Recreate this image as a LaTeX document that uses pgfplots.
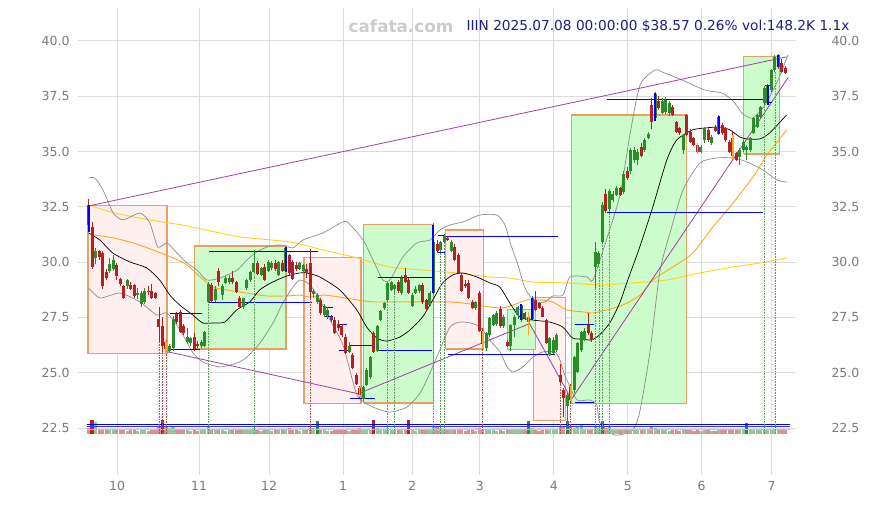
\documentclass[border=0pt]{standalone}
\usepackage{pgfplots}
\pgfplotsset{compat=1.18}
\usepackage{pgfplotstable}
\usepackage{fontspec}
\setmainfont{DejaVu Sans}

\definecolor{cgreen}{HTML}{2A8C2A}
\definecolor{cred}{HTML}{B22222}
\definecolor{cgrid}{HTML}{DCDCDC}
\definecolor{cbox}{HTML}{E6A064}
\definecolor{cpink}{HTML}{FFEFEF}
\definecolor{cmint}{HTML}{CCFBCC}
\definecolor{cpurple}{HTML}{A040A0}
\definecolor{cyellow}{HTML}{FFD21E}
\definecolor{corange}{HTML}{FFA520}
\definecolor{cband}{HTML}{8C8C8C}
\definecolor{ctitle}{HTML}{1C1C8C}
\definecolor{ctick}{HTML}{7A7A7A}

% daily candles: day, open, high, low, close, volume height
\pgfplotstableread{
d o h l c v
2 30.2 30.65 29.9 30.5 0.55
6 29.6 30.2 29.5 29.9 0.18
7 29.7 30.3 29.6 30.1 0.2
11 28.9 29.25 28.8 29.2 0.15
14 28.5 28.85 28.35 28.6 0.14
15 28.1 28.7 27.95 28.6 0.18
16 28.2 28.85 28.1 28.7 0.16
23 26.0 26.3 25.9 26.2 0.25
24 26.1 27.55 26.0 27.45 0.3
28 26.4 27.0 26.3 26.6 0.18
29 26.35 26.6 26.2 26.55 0.15
32 26.2 26.5 26.1 26.4 0.17
33 26.2 26.9 26.15 26.85 0.2
34 28.2 29.1 28.15 29.0 0.34
36 28.3 28.9 28.2 28.8 0.18
38 28.5 29.0 28.3 28.9 0.17
39 29.05 29.35 29.0 29.28 0.15
40 29.1 29.4 29.0 29.3 0.16
44 27.98 28.4 27.9 28.37 0.17
45 28.83 29.25 28.75 29.19 0.18
46 29.19 29.6 29.1 29.57 0.16
47 29.57 30.54 29.5 29.97 0.26
49 29.42 29.8 29.35 29.74 0.15
51 29.6 30.1 29.55 30.0 0.16
52 29.75 30.05 29.65 29.95 0.15
54 29.4 30.05 29.35 30.0 0.16
56 29.6 30.7 29.55 30.65 0.2
60 29.7 30.0 29.65 29.95 0.15
61 29.6 29.9 29.5 29.85 0.16
64 28.55 28.8 28.4 28.7 0.25
65 28.2 28.6 28.1 28.5 0.6
67 27.6 28.1 27.5 28.0 0.16
68 27.55 27.95 27.45 27.85 0.15
74 25.95 26.4 25.9 26.2 0.15
78 23.8 24.4 23.7 24.37 0.2
79 24.45 25.2 24.4 25.1 0.18
80 24.8 25.75 24.7 25.7 0.2
82 26.0 27.15 25.95 27.1 0.25
83 27.4 27.85 27.35 27.77 0.2
84 27.93 28.2 27.85 28.15 0.22
85 28.3 29.1 28.25 29.05 0.28
86 28.74 29.15 28.7 29.1 0.2
87 28.8 29.0 28.6 28.95 0.22
89 28.6 29.4 28.5 29.3 0.18
92 28.0 28.6 27.95 28.5 0.2
93 28.6 28.9 28.55 28.8 0.15
94 28.7 29.0 28.6 28.95 0.16
97 28.06 28.7 28.0 28.6 0.2
98 28.6 31.75 28.5 30.9 0.3
100 30.55 30.95 30.5 30.9 0.25
101 30.9 31.25 30.85 31.2 0.22
103 30.5 31.0 30.45 30.9 0.17
110 27.93 28.25 27.85 28.2 0.15
113 26.1 26.85 26.0 26.8 0.2
114 26.7 27.5 26.6 27.47 0.18
115 27.15 27.65 27.1 27.6 0.16
116 27.2 27.8 27.1 27.7 0.15
118 27.1 27.6 27.0 27.5 0.15
120 26.2 27.2 26.0 27.15 0.18
121 27.15 27.6 26.6 27.5 0.16
122 27.6 28.0 27.45 27.95 0.17
123 27.4 28.1 27.3 28.06 0.2
125 27.3 27.75 26.7 27.5 0.6
126 27.45 28.45 27.4 28.4 0.25
131 25.8 26.6 25.75 26.55 0.2
132 25.9 26.6 25.85 26.5 0.17
133 26.03 26.8 25.95 26.7 0.18
136 23.5 24.1 22.45 24.0 0.6
138 24.2 25.75 24.1 25.7 0.28
139 25.05 26.4 25.0 26.35 0.3
140 26.03 26.9 25.95 26.85 0.45
141 26.5 27.0 26.45 26.9 0.2
144 29.8 30.92 28.83 30.47 0.3
145 29.9 30.5 29.8 30.4 0.28
146 30.92 32.7 30.8 32.58 0.6
148 32.4 33.3 32.3 33.2 0.3
149 32.8 33.2 32.7 33.1 0.2
150 33.05 33.45 33.0 33.35 0.18
152 33.19 34.1 33.1 34.0 0.2
154 34.1 35.15 34.0 35.07 0.22
155 34.6 35.2 34.5 35.07 0.18
156 34.6 35.1 34.4 35.0 0.16
158 35.07 35.6 35.0 35.5 0.16
159 35.6 35.9 35.55 35.8 0.17
161 36.5 37.7 36.4 37.6 0.25
163 36.75 37.4 36.7 37.3 0.16
164 36.8 37.45 36.7 37.35 0.17
165 36.75 37.3 36.6 37.2 0.15
169 35.07 35.8 34.9 35.75 0.2
174 35.0 35.3 34.95 35.22 0.15
175 35.5 36.1 35.4 36.05 0.18
177 35.37 35.75 35.3 35.67 0.14
179 35.8 36.65 35.75 36.58 0.18
185 34.77 35.15 34.4 35.07 0.18
186 35.07 35.5 35.0 35.45 0.16
187 35.07 35.3 34.6 35.22 0.5
188 35.07 35.65 35.0 35.6 0.18
189 35.85 36.55 35.8 36.5 0.2
190 36.12 36.7 36.05 36.65 0.18
191 36.58 37.05 36.5 37.03 0.17
192 37.18 37.95 37.1 37.86 0.22
193 37.2 38.05 37.1 38.0 0.2
194 37.78 38.75 37.7 38.69 0.24
195 38.69 39.35 38.6 39.29 0.22
196 38.8 39.4 38.75 39.37 0.2
}\upcandles

\pgfplotstableread{
d o h l c v
0 32.6 32.85 31.4 31.7 0.25
1 31.6 31.8 29.7 29.8 0.65
3 30.5 30.55 30.1 30.25 0.22
4 30.4 30.5 28.8 28.9 0.24
5 29.55 29.7 29.2 29.3 0.2
8 29.85 29.95 29.2 29.35 0.16
9 29.25 29.3 28.9 29.0 0.18
10 28.9 28.95 28.35 28.4 0.22
12 28.95 29.1 28.75 28.8 0.17
13 28.95 29.0 28.4 28.45 0.2
17 28.7 28.9 28.5 28.65 0.15
18 28.7 29.0 28.35 28.4 0.17
19 28.6 28.65 28.35 28.4 0.2
20 27.45 27.98 26.4 27.05 0.32
21 27.1 27.5 25.95 26.2 0.65
22 26.4 26.5 25.85 26.05 0.3
25 27.65 27.75 27.2 27.3 0.2
26 27.75 27.85 26.8 26.85 0.18
27 27.1 27.2 26.7 26.8 0.16
30 26.6 26.8 26.0 26.05 0.2
31 26.3 26.45 26.1 26.2 0.15
35 28.95 29.05 28.15 28.25 0.22
37 29.6 29.75 28.9 29.1 0.2
41 29.3 29.6 29.0 29.1 0.18
42 29.1 29.15 28.6 28.66 0.2
43 28.37 28.45 27.95 27.98 0.22
48 29.97 30.05 29.4 29.45 0.17
50 29.8 29.9 29.15 29.2 0.18
53 29.98 30.1 29.6 29.7 0.17
55 29.98 30.1 29.55 29.6 0.18
57 30.3 30.35 29.4 29.5 0.28
58 30.0 30.1 29.2 29.25 0.22
59 29.85 30.0 29.6 29.7 0.17
62 29.7 29.9 29.3 29.5 0.2
63 29.96 30.6 28.4 28.66 0.25
66 28.3 28.4 27.6 27.7 0.2
69 27.5 27.6 27.3 27.4 0.14
70 27.4 27.5 26.75 26.8 0.2
71 27.2 27.4 26.9 27.0 0.16
72 27.1 27.2 26.6 26.7 0.18
73 26.6 26.75 25.85 25.9 0.2
75 25.8 25.9 25.15 25.2 0.2
76 24.9 25.0 24.45 24.5 0.22
77 24.3 24.4 23.85 24.0 0.25
81 26.8 26.9 25.9 25.95 0.65
88 29.1 29.2 28.6 28.7 0.17
90 29.4 29.75 29.05 29.1 0.2
91 29.19 29.3 28.55 28.6 0.65
95 28.97 29.05 28.1 28.2 0.18
96 28.3 28.35 27.8 27.86 0.16
99 30.8 31.0 30.4 30.5 0.3
102 31.1 31.2 30.95 31.0 0.16
104 30.7 30.8 30.05 30.1 0.18
105 30.3 30.4 29.45 29.5 0.2
106 29.4 29.5 28.65 28.7 0.22
107 29.0 29.2 28.85 28.9 0.15
108 29.05 29.2 28.35 28.4 0.18
109 28.2 28.3 27.9 27.93 0.17
111 28.6 28.7 26.85 26.9 0.26
112 26.9 27.0 26.1 26.3 0.22
117 27.9 28.0 27.0 27.1 0.18
119 26.4 26.5 26.15 26.2 0.2
124 27.7 27.75 27.4 27.47 0.16
127 28.3 28.7 27.8 27.85 0.2
128 28.15 28.2 27.9 27.93 0.15
129 27.93 28.0 27.5 27.53 0.16
130 27.4 27.45 26.3 26.35 0.22
134 24.9 25.4 24.55 24.6 0.3
135 24.2 24.3 23.0 23.85 0.3
137 24.36 24.5 23.6 23.75 0.3
142 27.15 27.7 26.7 26.78 0.18
143 26.8 26.9 26.4 26.5 0.16
147 33.1 33.3 32.2 32.3 0.25
151 33.35 33.4 33.0 33.05 0.16
153 34.1 34.3 33.7 33.8 0.17
157 35.2 35.4 34.75 34.8 0.17
160 37.1 37.4 36.0 36.35 0.3
162 37.3 37.5 36.9 36.97 0.18
166 37.03 37.1 36.6 36.65 0.16
167 36.35 36.4 35.85 35.9 0.2
168 36.05 36.1 35.75 35.83 0.15
170 36.65 36.7 35.7 35.75 0.22
171 35.9 36.0 35.4 35.45 0.18
172 35.6 35.65 35.25 35.3 0.15
173 35.3 35.4 34.95 35.0 0.17
176 35.98 36.1 35.45 35.52 0.16
178 36.12 36.2 35.9 35.95 0.15
180 36.2 36.3 35.75 35.83 0.16
181 36.05 36.1 35.45 35.52 0.17
182 35.45 35.5 34.95 35.0 0.18
183 35.6 35.9 34.65 34.8 0.22
184 34.92 35.0 34.55 34.62 0.17
197 38.99 39.2 38.55 38.61 0.18
198 38.77 38.85 38.5 38.57 0.2
}\downcandles

% heavy-volume days, drawn solid
\pgfplotstableread{
d v
65 0.6
125 0.6
136 0.6
146 0.6
187 0.5
}\upspikes
\pgfplotstableread{
d v
1 0.65
21 0.65
81 0.65
91 0.65
}\downspikes

% signal markers: day, low, high
\pgfplotstableread{
d lo hi
0 31.38 32.58
56 29.56 30.7
98 28.6 31.7
123 27.4 28.1
126 27.4 28.4
161 36.4 37.65
179 35.8 36.6
193 37.1 38.0
196 38.8 39.37
}\bluemarks
\pgfplotstableread{
d lo hi
22 25.85 26.45
77 23.9 24.35
112 26.1 26.9
125 26.7 27.75
137 23.7 24.4
173 34.9 35.4
183 34.65 35.75
}\orangemarks

% dotted drop lines: day, top of line
\pgfplotstableread{
d top
20 26.4
21 25.95
22 25.85
63 28.4
112 26.1
134 24.55
137 23.6
}\reddrops
\pgfplotstableread{
d top
34 28.15
47 29.5
85 28.25
87 28.6
98 28.5
100 30.5
101 30.85
144 28.83
145 29.8
146 30.8
148 32.3
192 37.1
195 38.6
}\greendrops

\pgfplotsset{
  boxpink/.style={fill=cpink, draw=cbox, line width=1.1pt},
  boxmint/.style={fill=cmint, draw=cbox, line width=1.1pt},
  % vertical strokes drawn as error bars, with no visible mark at the anchor point
  stroke/.style n args={3}{only marks, mark=*, mark size=0pt, mark options={draw=none, fill=none},
     error bars/.cd, y dir=plus, y explicit, error mark=none,
     error bar style={line width=#1, draw=#2, #3}},
  wick/.style={stroke={0.9pt}{#1}{solid}},
  body/.style={stroke={3pt}{#1}{solid}},
  volbar/.style={stroke={3.2pt}{#1}{solid}},
  pricescale/.style={
    scale only axis, width=718pt, height=467pt,
    xmin=-3, xmax=201, ymin=20.375, ymax=41.49,
    axis line style={draw=none}, tick style={draw=none},
    ytick={22.5,25,27.5,30,32.5,35,37.5,40},
    /pgf/number format/fixed, /pgf/number format/fixed zerofill,
    /pgf/number format/precision=1, /pgf/number format/assume math mode=true,
    ticklabel style={font=\fontsize{12.5}{14}\selectfont, text=ctick},
  },
}

\begin{document}
\begin{tikzpicture}
\path[use as bounding box] (0,0) rectangle (875pt,505pt);

\begin{axis}[
  at={(78pt,30pt)}, anchor=south west,
  pricescale,
  grid=major, grid style={line width=0.9pt, cgrid},
  y tick label style={xshift=-5pt},
  xtick={8.1,31.4,51.3,72.3,91.9,111.2,132.2,153.2,174.2,194.1},
  xticklabels={10,11,12,1,2,3,4,5,6,7},
  x tick label style={yshift=-3pt},
  clip=true,
]

% range boxes
\addplot[boxpink] coordinates {(-0.16,25.85) (22.3,25.85) (22.3,32.54) (-0.16,32.54) (-0.16,25.85)};
\addplot[boxmint] coordinates {(30.2,26.07) (56.1,26.07) (56.1,30.73) (30.2,30.73) (30.2,26.07)};
\addplot[boxpink] coordinates {(61.2,23.59) (77.4,23.59) (77.4,30.19) (61.2,30.19) (61.2,23.59)};
\addplot[boxmint] coordinates {(78.2,23.63) (98.1,23.63) (98.1,31.72) (78.2,31.72) (78.2,23.63)};
\addplot[boxpink] coordinates {(101.5,26.07) (112.3,26.07) (112.3,31.45) (101.5,31.45) (101.5,26.07)};
\addplot[boxpink] coordinates {(126.3,22.82) (135.4,22.82) (135.4,28.42) (126.3,28.42) (126.3,22.82)};
\addplot[boxmint] coordinates {(119.1,26.03) (127.1,26.03) (127.1,27.84) (119.1,27.84) (119.1,26.03)};
\addplot[boxmint] coordinates {(137.3,23.59) (170.0,23.59) (170.0,36.65) (137.3,36.65) (137.3,23.59)};
\addplot[boxmint] coordinates {(186.2,34.89) (196.4,34.89) (196.4,39.28) (186.2,39.28) (186.2,34.89)};

% long moving average
\addplot[cyellow, line width=0.9pt, smooth, tension=0.4] coordinates {
(0,32.58) (7.5,32.22) (17.2,31.91) (26.5,31.68) (33.4,31.45) (43.0,31.14) (57.2,30.91)
(66.6,30.55) (76.3,30.19) (85.6,29.78) (95.0,29.64) (104.7,29.51) (114.0,29.33) (119.7,29.28)
(126.3,29.1) (135.9,29.06) (145.3,28.97) (154.6,29.06) (164.3,29.19) (173.7,29.51) (183.1,29.78)
(190.7,29.96) (198.4,30.19)};

% medium moving average
\addplot[corange, line width=0.9pt, smooth, tension=0.4] coordinates {
(0,31.32) (1.8,31.23) (6.9,31.1) (12.6,30.87) (18.3,30.55) (24.0,30.19) (28.0,29.87) (31.7,29.33)
(35.3,28.88) (39.3,28.74) (45.0,28.6) (50.7,28.47) (56.4,28.47) (60.1,28.51) (62.9,28.42)
(66.6,28.51) (71.4,28.42) (76.3,28.29) (80.8,28.2) (85.6,28.2) (90.5,28.2) (95.0,28.2) (99.0,28.2)
(102.7,28.2) (106.4,28.15) (110.3,28.06) (114.0,27.97) (117.7,27.93) (120.6,28.06) (124.6,28.29)
(128.3,28.29) (131.9,28.2) (135.9,27.84) (140.4,27.75) (143.3,27.7) (147.3,27.84) (151.8,28.06)
(156.7,28.51) (160.3,29.19) (166.0,29.78) (171.7,30.41) (177.4,31.59) (183.1,32.67) (188.8,33.85)
(192.8,34.85) (198.4,35.98)};

% Bollinger bands
\addplot[cband, line width=0.7pt, smooth, tension=0.4] coordinates {
(0,33.8) (1.8,33.8) (4.1,33.26) (7.0,32.22) (9.8,31.91) (14.6,32.22) (17.4,31.77) (19.7,30.68)
(22.3,30.87) (25.1,30.41) (28.0,29.96) (30.8,29.64) (33.6,29.19) (37.3,29.28) (42.2,29.64)
(45.0,30.1) (47.8,30.46) (50.7,30.68) (54.4,30.78) (58.1,30.64) (60.9,31.0) (66.6,31.32)
(70.6,31.68) (73.4,31.82) (78.0,31.0) (80.8,30.1) (83.6,29.19) (85.6,29.19) (89.3,30.23)
(93.3,30.87) (97.0,31.0) (99.8,31.45) (102.7,31.68) (106.4,31.82) (111.2,32.13) (116.0,32.13)
(118.3,31.68) (120.0,30.78) (122.0,29.87) (124.0,28.83) (126.8,28.2) (129.7,28.2) (131.9,28.47)
(134.8,28.51) (136.8,29.33) (141.6,29.33) (143.3,29.19) (147.3,31.09) (151.0,33.04) (153.8,35.75)
(156.7,38.01) (160.9,38.69) (162.9,38.6) (168.6,38.24) (175.1,37.78) (179.9,37.65) (183.1,37.29)
(185.9,36.7) (188.7,36.52) (192.2,37.11) (195.9,38.24) (198.7,39.37)};
\addplot[cband, line width=0.7pt, smooth, tension=0.4] coordinates {
(0,28.83) (3.3,28.38) (8.9,28.6) (14.6,28.2) (19.4,27.61) (22.3,27.7) (26.0,26.93) (29.7,25.89)
(32.5,25.48) (37.3,25.26) (42.2,25.44) (45.0,25.71) (48.7,26.34) (52.4,27.25) (55.2,28.15)
(58.1,28.88) (60.1,29.19) (62.9,28.97) (65.7,28.29) (68.6,27.38) (72.3,26.25) (76.3,23.99)
(80.8,23.45) (85.6,23.22) (90.5,23.45) (94.2,24.08) (97.0,24.99) (99.8,26.03) (102.7,27.07)
(105.5,27.29) (108.4,27.25) (111.2,27.07) (114.0,26.48) (116.9,25.94) (118.9,25.26) (120.6,25.03)
(123.4,25.26) (126.3,25.71) (129.1,25.94) (132.5,25.94) (133.9,25.58) (134.8,25.12) (135.9,24.67)
(138.8,23.77) (142.5,23.77) (144.4,23.54) (145.3,22.73) (149.5,22.18) (154.6,22.41) (156.7,23.31)
(159.5,25.94) (162.3,29.55) (165.2,31.32) (168.9,33.26) (173.7,34.48) (178.5,34.71) (183.1,34.71)
(187.1,34.53) (191.6,34.17) (195.6,33.71) (198.4,33.62)};

% short moving average
\addplot[black, line width=0.7pt, smooth, tension=0.4] coordinates {
(0,31.32) (3.2,31.0) (6.9,30.41) (11.7,30.01) (16.5,29.74) (20.2,29.19) (23.1,28.51) (25.9,28.06)
(29.6,27.61) (32.4,27.25) (35.3,27.25) (38.7,27.29) (42.1,27.84) (45.8,28.2) (48.6,28.74)
(52.3,29.1) (56.3,29.37) (60.0,29.51) (62.0,29.51) (65.7,29.33) (71.4,28.74) (76.2,27.84)
(79.0,27.07) (81.9,26.57) (84.7,26.43) (88.4,26.61) (91.3,26.93) (94.9,27.52) (97.8,28.29)
(100.6,29.06) (103.5,29.42) (106.3,29.51) (110.3,29.33) (114.0,29.06) (116.8,28.88) (119.7,28.15)
(122.5,27.52) (126.2,27.38) (131.0,27.29) (134.7,27.07) (137.5,26.57) (140.4,26.52) (142.9,26.48)
(145.2,26.71) (148.1,27.25) (150.9,28.15) (153.2,29.19) (156.6,30.68) (160.3,32.49) (164.3,34.62)
(167.1,35.52) (171.6,35.98) (175.6,36.07) (179.3,36.11) (182.2,35.98) (185.0,35.66) (187.0,35.57)
(190.7,35.57) (193.5,35.84) (198.3,36.65)};

% trend lines
\addplot[cpurple, line width=0.8pt] coordinates {(0,32.54) (198.3,39.28)};
\addplot[cpurple, line width=0.8pt] coordinates {(22.4,25.95) (76.6,24.05) (125.3,27.22) (137.2,23.8) (198.8,38.35)};

% support and resistance segments
\addplot[blue, line width=0.8pt, unbounded coords=jump] coordinates {
(22.6,26.05) (31.7,26.05) (nan,nan)
(23.2,27.66) (32.2,27.66) (nan,nan)
(34.2,30.5) (65.2,30.5) (nan,nan)
(34.2,28.2) (63.5,28.2) (nan,nan)
(66.6,27.96) (69.4,27.96) (nan,nan)
(67.2,27.56) (69.4,27.56) (nan,nan)
(71.1,27.19) (73.4,27.19) (nan,nan)
(71.1,26.03) (74.3,26.03) (nan,nan)
(74.3,26.25) (80.8,26.25) (nan,nan)
(74.3,23.84) (81.4,23.84) (nan,nan)
(82.2,29.31) (97.6,29.31) (nan,nan)
(82.2,26.03) (97.6,26.03) (nan,nan)
(99.3,31.2) (101.3,31.2) (nan,nan)
(99.3,30.45) (101.3,30.45) (nan,nan)
(101.3,31.15) (133.4,31.15) (nan,nan)
(102.2,25.83) (132.6,25.83) (nan,nan)
(138.2,27.19) (143.6,27.19) (nan,nan)
(138.2,23.65) (143.6,23.65) (nan,nan)
(147.3,37.36) (191.6,37.36) (nan,nan)
(147.3,32.24) (191.6,32.24) (nan,nan)
(192.2,38.0) (194.2,38.0) (nan,nan)
(192.2,37.2) (194.2,37.2)};

% volume
\addplot[volbar=cgreen!50] table[x=d, y expr=22.23, y error expr=\thisrow{v}] {\upcandles};
\addplot[volbar=cred!50] table[x=d, y expr=22.23, y error expr=\thisrow{v}] {\downcandles};
\addplot[volbar=cgreen] table[x=d, y expr=22.23, y error expr=\thisrow{v}] {\upspikes};
\addplot[volbar=cred] table[x=d, y expr=22.23, y error expr=\thisrow{v}] {\downspikes};
\addplot[gray!45, line width=0.8pt] coordinates {(-0.5,22.45) (199.3,22.45)};
\addplot[blue, line width=0.8pt] coordinates {(-0.5,22.68) (199.3,22.68)};
\addplot[blue!80, line width=0.8pt] coordinates {(-0.5,22.56) (199.3,22.56)};

% drop lines
\addplot[stroke={0.6pt}{cred!80}{densely dotted}]
  table[x=d, y expr=22.23, y error expr=\thisrow{top}-22.23] {\reddrops};
\addplot[stroke={0.6pt}{cgreen!80}{densely dotted}]
  table[x=d, y expr=22.23, y error expr=\thisrow{top}-22.23] {\greendrops};

% candles
\addplot[wick=cgreen] table[x=d, y=l, y error expr=\thisrow{h}-\thisrow{l}] {\upcandles};
\addplot[wick=cred] table[x=d, y=l, y error expr=\thisrow{h}-\thisrow{l}] {\downcandles};
\addplot[body=cgreen] table[x=d, y=o, y error expr=\thisrow{c}-\thisrow{o}] {\upcandles};
\addplot[body=cred] table[x=d, y=c, y error expr=\thisrow{o}-\thisrow{c}] {\downcandles};

% signal markers
\addplot[stroke={2pt}{blue}{solid}] table[x=d, y=lo, y error expr=\thisrow{hi}-\thisrow{lo}] {\bluemarks};
\addplot[stroke={1.8pt}{corange}{solid}] table[x=d, y=lo, y error expr=\thisrow{hi}-\thisrow{lo}] {\orangemarks};
\end{axis}

% right-hand price scale
\begin{axis}[
  at={(78pt,30pt)}, anchor=south west,
  pricescale,
  xtick=\empty,
  yticklabel pos=right,
  y tick label style={anchor=west, xshift=32pt},
]
\addplot[draw=none] coordinates {(0,30)};
\end{axis}

\node[font=\fontsize{16.8}{18}\selectfont\bfseries, text=black!20] at (401pt,479pt) {cafata.com};
\node[font=\fontsize{13.7}{16}\selectfont, text=ctitle, anchor=east] at (853pt,479pt)
  {IIIN 2025.07.08 00:00:00 \$38.57 0.26\% vol:148.2K 1.1x};
\end{tikzpicture}
\end{document}
